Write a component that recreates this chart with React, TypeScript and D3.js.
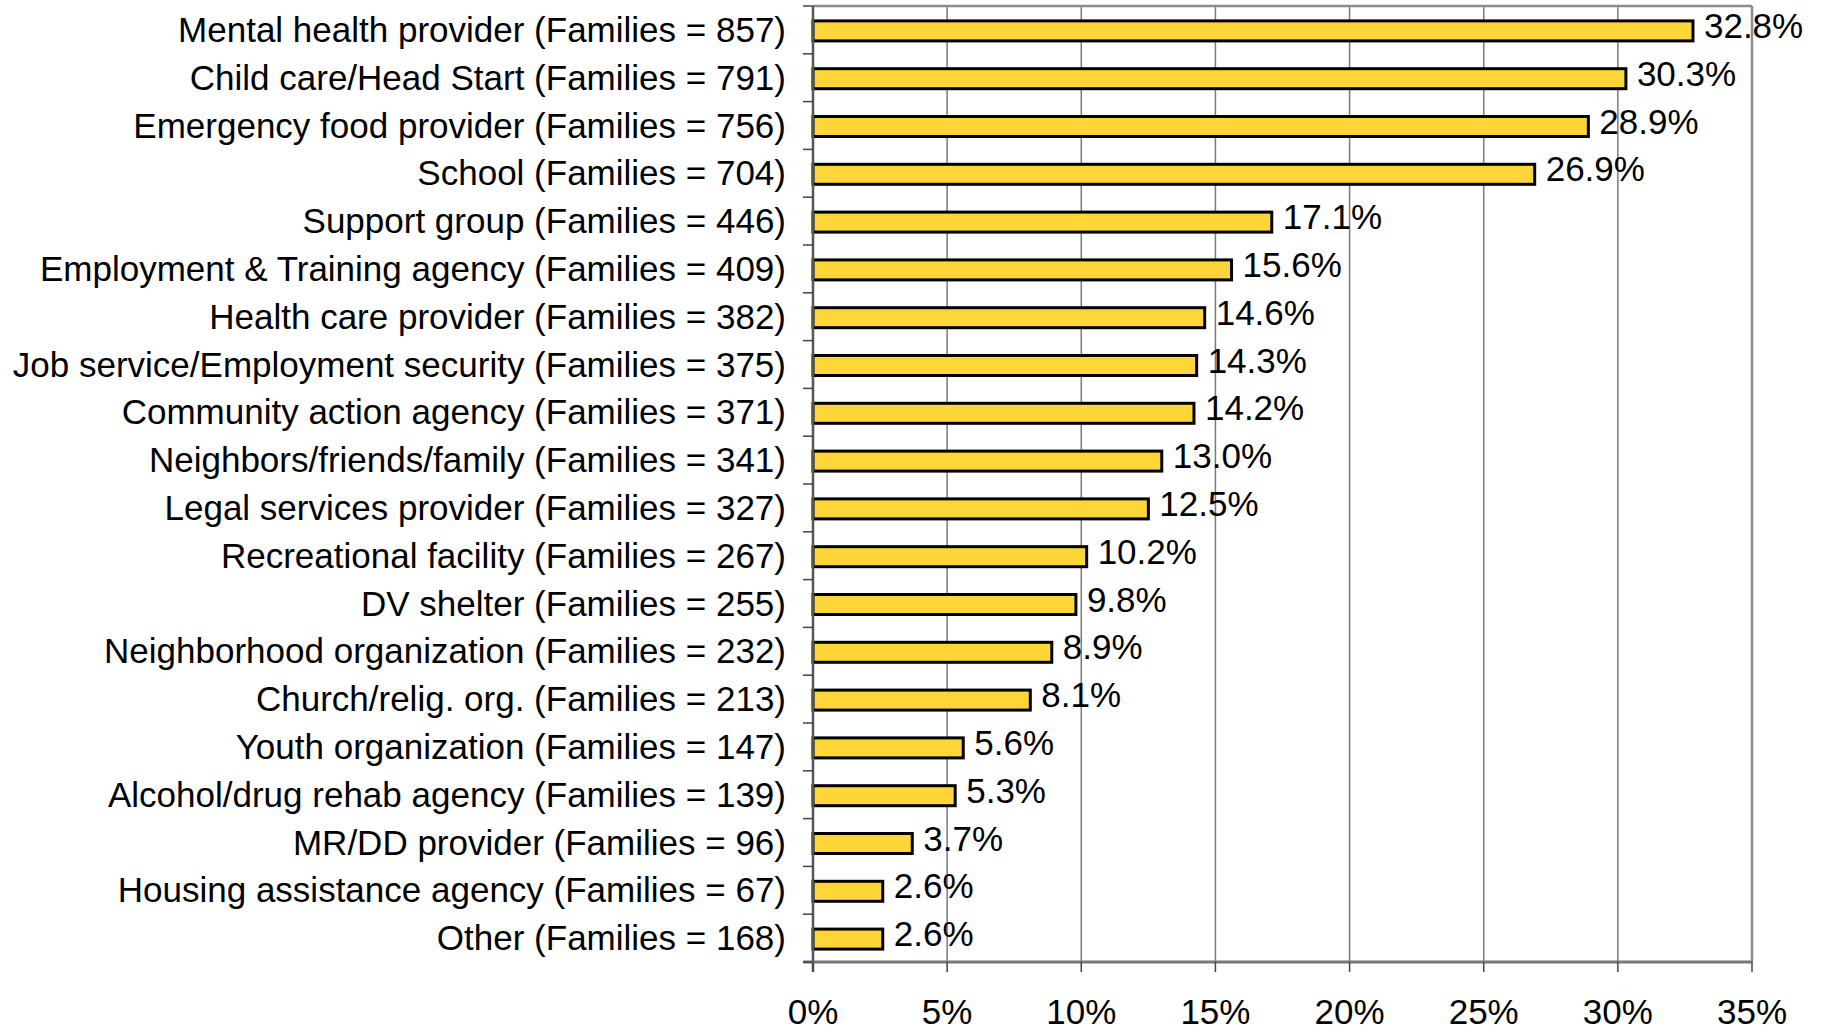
import React from "react";
import * as d3 from "d3";

const categories: string[] = [
  "Mental health provider",
  "Child care/Head Start",
  "Emergency food provider",
  "School",
  "Support group",
  "Employment & Training agency",
  "Health care provider",
  "Job service/Employment security",
  "Community action agency",
  "Neighbors/friends/family",
  "Legal services provider",
  "Recreational facility",
  "DV shelter",
  "Neighborhood organization",
  "Church/relig. org.",
  "Youth organization",
  "Alcohol/drug rehab agency",
  "MR/DD provider",
  "Housing assistance agency",
  "Other",
];
const families: number[] = [857, 791, 756, 704, 446, 409, 382, 375, 371, 341, 327, 267, 255, 232, 213, 147, 139, 96, 67, 168];
const percents: number[] = [32.8, 30.3, 28.9, 26.9, 17.1, 15.6, 14.6, 14.3, 14.2, 13.0, 12.5, 10.2, 9.8, 8.9, 8.1, 5.6, 5.3, 3.7, 2.6, 2.6];
const xTicks: number[] = [0, 5, 10, 15, 20, 25, 30, 35];

const W = 1824;
const H = 1031;
const left = 813;
const right = 1752;
const top = 6;
const bottom = 962;
const FONT = "'Liberation Sans', Arial, sans-serif";
const FS = 35;

export default function App() {
  const x = d3.scaleLinear().domain([0, 35]).range([left, right]);
  const y = d3.scaleBand<number>().domain(d3.range(categories.length)).range([top, bottom]);
  const bw = y.bandwidth();
  const barH = 20;

  return (
    <svg width={W} height={H} style={{ position: "absolute", left: 0, top: 0, background: "#fff" }}>
      <rect x={0} y={0} width={W} height={H} fill="#fff" />
      {xTicks.slice(1, -1).map((t) => (
        <line key={"g" + t} x1={x(t)} x2={x(t)} y1={top} y2={bottom} stroke="#7a7a7a" strokeWidth={1.5} />
      ))}
      <line x1={left} x2={right} y1={top} y2={top} stroke="#8c8c8c" strokeWidth={2.5} />
      <line x1={right} x2={right} y1={top} y2={bottom} stroke="#8c8c8c" strokeWidth={2.5} />
      {percents.map((p, i) => {
        const cy = (y(i) as number) + bw / 2 + 1;
        return (
          <g key={"b" + i}>
            <rect
              x={x(0)}
              y={cy - barH / 2}
              width={x(p) - x(0)}
              height={barH}
              fill="#FFD638"
              stroke="#000"
              strokeWidth={3}
            />
            <text
              x={x(p) + 11}
              y={(y(i) as number) + bw / 2 + 8}
              fontFamily={FONT}
              fontSize={FS}
              fill="#000"
            >
              {p.toFixed(1) + "%"}
            </text>
          </g>
        );
      })}
      <line x1={left} x2={left} y1={top} y2={bottom + 10} stroke="#555" strokeWidth={2.5} />
      <line x1={left - 10} x2={right} y1={bottom} y2={bottom} stroke="#777" strokeWidth={3} />
      {d3.range(categories.length + 1).map((i) => {
        const yy = i < categories.length ? (y(i) as number) : bottom;
        return <line key={"yt" + i} x1={left - 10} x2={left} y1={yy} y2={yy} stroke="#444" strokeWidth={1.5} />;
      })}
      {xTicks.map((t) => (
        <g key={"xt" + t}>
          <line x1={x(t)} x2={x(t)} y1={bottom} y2={bottom + 10} stroke="#444" strokeWidth={1.5} />
          <text x={x(t)} y={1024} textAnchor="middle" fontFamily={FONT} fontSize={FS} fill="#000">
            {t + "%"}
          </text>
        </g>
      ))}
      {categories.map((c, i) => (
        <text
          key={"c" + i}
          x={786}
          y={(y(i) as number) + bw / 2 + 12}
          textAnchor="end"
          fontFamily={FONT}
          fontSize={FS}
          fill="#000"
        >
          {`${c} (Families = ${families[i]})`}
        </text>
      ))}
    </svg>
  );
}
